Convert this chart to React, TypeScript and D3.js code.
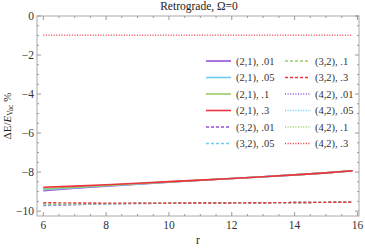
import { scaleLinear, line, range } from 'd3'

// r values sampled along each curve
const rValues = [6, 7, 8, 9, 10, 11, 12, 13, 14, 15, 15.85]

// (2,1) solid curves
const solid01 = [-8.95, -8.83, -8.72, -8.62, -8.52, -8.42, -8.33, -8.24, -8.14, -8.04, -7.93]
const solid05 = [-8.9, -8.8, -8.7, -8.61, -8.51, -8.42, -8.33, -8.24, -8.14, -8.04, -7.93]
const solid1 = [-8.85, -8.77, -8.68, -8.59, -8.5, -8.41, -8.33, -8.24, -8.14, -8.04, -7.93]
const solid3 = [-8.78, -8.72, -8.65, -8.57, -8.49, -8.41, -8.33, -8.24, -8.14, -8.04, -7.93]

// (3,2) dashed curves
const dashed01 = [-9.72, -9.67, -9.63, -9.61, -9.6, -9.59, -9.58, -9.57, -9.56, -9.55, -9.54]
const dashed05 = [-9.69, -9.65, -9.62, -9.6, -9.6, -9.59, -9.58, -9.57, -9.56, -9.55, -9.54]
const dashed1 = [-9.65, -9.63, -9.61, -9.6, -9.59, -9.59, -9.58, -9.57, -9.56, -9.55, -9.54]
const dashed3 = [-9.57, -9.58, -9.59, -9.59, -9.59, -9.58, -9.58, -9.57, -9.56, -9.55, -9.54]

// (4,2) dotted curves (only .3 is inside the plot range)
const dotted3 = [-0.98, -0.98, -0.98, -0.98, -0.98, -0.98, -0.98, -0.98, -0.98, -0.98, -0.98]

const xTicks = [6, 8, 10, 12, 14, 16]
const yTicks = [0, -2, -4, -6, -8, -10]

const purple = '#9b50d8'
const cyan = '#6ccdf0'
const green = '#9acb68'
const red = '#ee3340'

const solidDash = ''
const dashDash = '3,2'
const dotDash = '1,1.6'

const series = [
  { label: '(2,1), .01', color: purple, dash: solidDash, values: solid01 },
  { label: '(2,1), .05', color: cyan, dash: solidDash, values: solid05 },
  { label: '(2,1), .1', color: green, dash: solidDash, values: solid1 },
  { label: '(2,1), .3', color: red, dash: solidDash, values: solid3 },
  { label: '(3,2), .01', color: purple, dash: dashDash, values: dashed01 },
  { label: '(3,2), .05', color: cyan, dash: dashDash, values: dashed05 },
  { label: '(3,2), .1', color: green, dash: dashDash, values: dashed1 },
  { label: '(3,2), .3', color: red, dash: dashDash, values: dashed3 },
  { label: '(4,2), .01', color: purple, dash: dotDash, values: null },
  { label: '(4,2), .05', color: cyan, dash: dotDash, values: null },
  { label: '(4,2), .1', color: green, dash: dotDash, values: null },
  { label: '(4,2), .3', color: red, dash: dotDash, values: dotted3 },
]

const App = () => {
  const width = 365
  const height = 248
  const left = 37
  const right = 359
  const top = 16
  const bottom = 216

  const xScale = scaleLinear().domain([5.8, 16.05]).range([left, right])
  const yScale = scaleLinear().domain([-10.25, 0]).range([bottom, top])

  const path = line<number>()
    .x((d, i) => xScale(rValues[i]))
    .y(d => yScale(d))

  const xMinor = range(6, 16.01, 0.5).filter(v => !xTicks.includes(v))
  const yMinor = range(-10, 0.01, 0.5).filter(v => !yTicks.includes(v))

  const font = "'Liberation Serif'"
  const tickColor = '#999'
  const mid = (left + right) / 2

  return (
    <svg width={width} height={height} style={{ position: 'absolute', left: 0, top: 0, background: 'white', fontFamily: font }}>
      {/* frame */}
      <rect x={left} y={top} width={right - left} height={bottom - top} fill='none' stroke='#aaa' strokeWidth={1} />

      {xTicks.map(t => (
        <g key={'x' + t}>
          <line x1={xScale(t)} x2={xScale(t)} y1={bottom} y2={bottom - 4} stroke={tickColor} />
          <line x1={xScale(t)} x2={xScale(t)} y1={top} y2={top + 4} stroke={tickColor} />
          <text x={xScale(t)} y={bottom + 13} textAnchor='middle' fontSize={11.5} fill='#333' style={{ fontFamily: font }}>{t}</text>
        </g>
      ))}
      {xMinor.map(t => (
        <g key={'xm' + t}>
          <line x1={xScale(t)} x2={xScale(t)} y1={bottom} y2={bottom - 2} stroke={tickColor} />
          <line x1={xScale(t)} x2={xScale(t)} y1={top} y2={top + 2} stroke={tickColor} />
        </g>
      ))}
      {yTicks.map(t => (
        <g key={'y' + t}>
          <line x1={left} x2={left + 4} y1={yScale(t)} y2={yScale(t)} stroke={tickColor} />
          <line x1={right} x2={right - 4} y1={yScale(t)} y2={yScale(t)} stroke={tickColor} />
          <text x={left - 3} y={yScale(t)} dy='.35em' textAnchor='end' fontSize={11.5} fill='#333' style={{ fontFamily: font }}>
            {t < 0 ? '\u2212' + Math.abs(t) : t}
          </text>
        </g>
      ))}
      {yMinor.map(t => (
        <g key={'ym' + t}>
          <line x1={left} x2={left + 2} y1={yScale(t)} y2={yScale(t)} stroke={tickColor} />
          <line x1={right} x2={right - 2} y1={yScale(t)} y2={yScale(t)} stroke={tickColor} />
        </g>
      ))}

      {/* curves */}
      {series.filter(s => s.values).map(s => (
        <path key={s.label} d={path(s.values as number[]) || ''} fill='none' stroke={s.color}
          strokeWidth={s.dash === solidDash ? 1.6 : 1.4} strokeDasharray={s.dash || undefined} />
      ))}

      {/* legend */}
      {series.map((s, i) => {
        const col = Math.floor(i / 6)
        const row = i % 6
        const lx = col === 0 ? 206 : 285
        const ly = 61 + row * 16.5
        return (
          <g key={'lg' + s.label}>
            <line x1={lx} x2={lx + 25} y1={ly} y2={ly} stroke={s.color} strokeWidth={1.6}
              strokeDasharray={s.dash || undefined} />
            <text x={lx + 30} y={ly} dy='.35em' fontSize={10.5} fill='#333' style={{ fontFamily: font }}>{s.label}</text>
          </g>
        )
      })}

      {/* titles */}
      <text x={mid + 1} y={10} textAnchor='middle' fontSize={11.5} fill='#222' style={{ fontFamily: font }}>Retrograde, Ω=0</text>
      <text x={mid} y={244} textAnchor='middle' fontSize={11.5} fill='#222' style={{ fontFamily: font }}>r</text>
      <text transform={`translate(11,${(top + bottom) / 2}) rotate(-90)`} textAnchor='middle' fontSize={11} fill='#222' style={{ fontFamily: font }}>
        ΔE/<tspan fontStyle='italic'>E</tspan><tspan fontSize={7.5} dy={2}>Vac</tspan><tspan dy={-2}> %</tspan>
      </text>
    </svg>
  )
}

export default App
